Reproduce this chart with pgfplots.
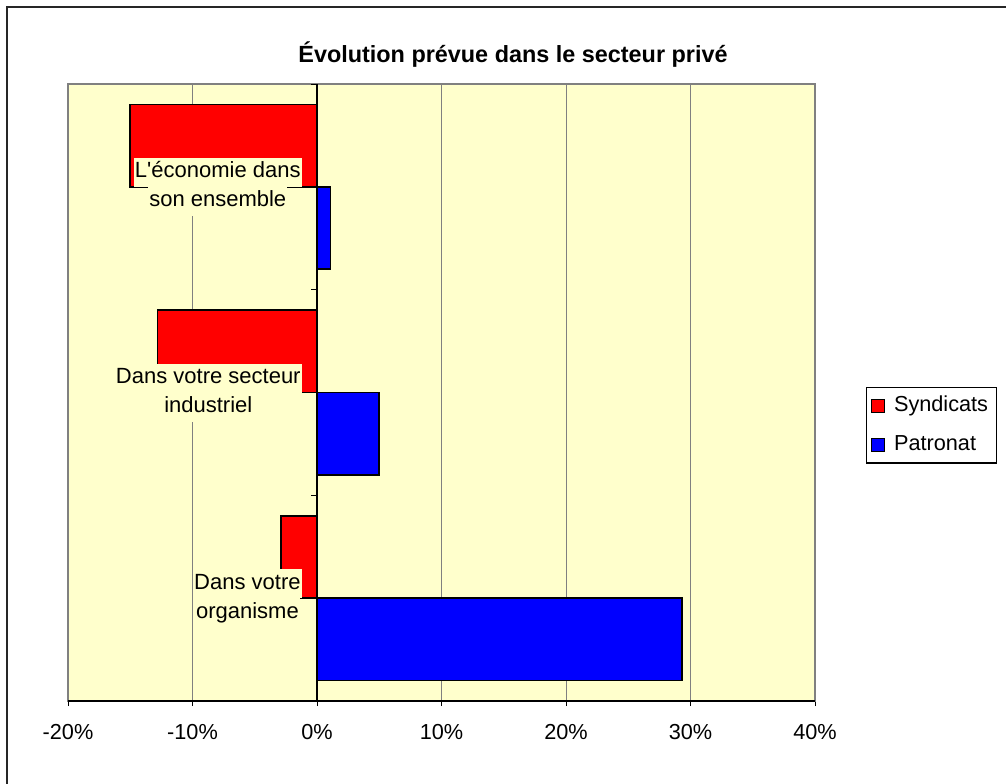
\documentclass[border=0pt]{standalone}
\usepackage{pgfplots}
\pgfplotsset{compat=1.18}
\usepackage{fontspec}
\setmainfont{Liberation Sans}
\newfontfamily\lblfont{Liberation Sans}
\definecolor{plotbg}{HTML}{FFFFCC}
\definecolor{gridgray}{HTML}{808080}
\setlength{\fboxsep}{0.5pt}
\newcommand{\lbl}[1]{\colorbox{plotbg}{\rule[-4pt]{0pt}{13.5pt}#1}}
\begin{document}
\begin{tikzpicture}
\begin{axis}[
  at={(34pt,41pt)}, anchor=south west,
  scale only axis, width=373.5pt, height=308.5pt,
  xmin=-20, xmax=40, ymin=-0.5, ymax=2.5,
  xtick={-20,-10,0,10,20,30,40},
  xticklabels={-20\%,-10\%,0\%,10\%,20\%,30\%,40\%},
  ytick=\empty,
  xtick pos=left,
  tick align=outside,
  major tick length=2.5pt,
  every tick/.style={black, line width=0.5pt},
  xmajorgrids,
  major grid style={gridgray, line width=0.5pt},
  axis background/.style={fill=plotbg},
  axis line style={gridgray, line width=0.6pt},
  tick label style={font=\fontsize{10.85}{13}\selectfont},
  xticklabel style={yshift=-5.5pt},
  xbar, bar width=0.4,
  legend image code/.code={\draw[#1, line width=0.6pt] (0pt,-3.5pt) rectangle (6.5pt,3pt); \path (9pt,0);},
  legend cell align=left,
  legend style={at={(1.0683,0.5089)}, anchor=north west, draw=black, line width=0.6pt, fill=white,
    inner xsep=2pt, inner ysep=2pt, row sep=5.3pt,
    font=\fontsize{10.85}{13}\selectfont,
    nodes={inner sep=2pt, text height=8pt, text depth=2.2pt}},
]
\addplot[xbar, bar shift=0.2, fill=red, draw=black, line width=0.8pt]
  coordinates {(-15.0,2) (-12.8,1) (-2.9,0)};
\addlegendentry{Syndicats}
\addplot[xbar, bar shift=-0.2, fill=blue, draw=black, line width=0.8pt]
  coordinates {(1.1,2) (5.0,1) (29.3,0)};
\addlegendentry{Patronat}
\draw[black, line width=0.6pt] (axis cs:-20,-0.5) -- (axis cs:40,-0.5);
\draw[black, line width=0.6pt] (axis cs:0,-0.5) -- (axis cs:0,2.5);
\draw[black, line width=0.5pt] (axis cs:0,-0.5) -- ([xshift=-3pt]axis cs:0,-0.5);
\draw[black, line width=0.5pt] (axis cs:0,0.5) -- ([xshift=-3pt]axis cs:0,0.5);
\draw[black, line width=0.5pt] (axis cs:0,1.5) -- ([xshift=-3pt]axis cs:0,1.5);
\draw[black, line width=0.5pt] (axis cs:0,2.5) -- ([xshift=-3pt]axis cs:0,2.5);
\node[anchor=east, align=center, inner sep=0pt, xshift=-7.5pt,
  font=\lblfont\fontsize{11}{14.5}\selectfont] at (axis cs:0,2)
  {\lbl{L'économie dans}\\\lbl{son ensemble}};
\node[anchor=east, align=center, inner sep=0pt, xshift=-7.5pt,
  font=\lblfont\fontsize{11}{14.5}\selectfont] at (axis cs:0,1)
  {\lbl{Dans votre secteur}\\\lbl{industriel}};
\node[anchor=east, align=center, inner sep=0pt, xshift=-7.5pt,
  font=\lblfont\fontsize{11}{14.5}\selectfont] at (axis cs:0,0)
  {\lbl{Dans votre}\\\lbl{organisme}};
\end{axis}
\node[anchor=base, font=\bfseries\fontsize{11.7}{14}\selectfont] at (256.5pt,360pt)
  {Évolution prévue dans le secteur privé};
\draw[black!85, line width=0.9pt] (3.5pt,-2pt) -- (3.5pt,388pt) -- (506pt,388pt);
\pgfresetboundingbox
\useasboundingbox (0,0) rectangle (503pt,391.5pt);
\end{tikzpicture}
\end{document}
